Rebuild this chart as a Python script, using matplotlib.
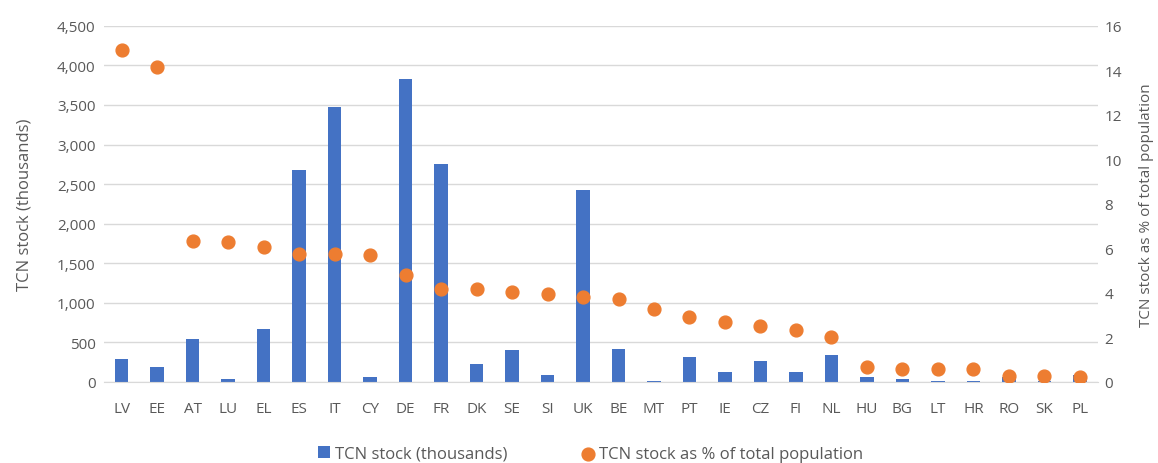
import matplotlib.pyplot as plt
import numpy as np

countries = ["LV", "EE", "AT", "LU", "EL", "ES", "IT", "CY", "DE", "FR", "DK", "SE", "SI", "UK",
             "BE", "MT", "PT", "IE", "CZ", "FI", "NL", "HU", "BG", "LT", "HR", "RO", "SK", "PL"]
stock_thousands = [290, 185, 545, 38, 670, 2680, 3470, 55, 3830, 2750, 228, 396, 80, 2430,
                   417, 8, 312, 123, 269, 123, 333, 59, 38, 10, 10, 59, 10, 80]
stock_pct = [14.9, 14.15, 6.35, 6.28, 6.05, 5.75, 5.75, 5.68, 4.78, 4.18, 4.18, 4.03, 3.96, 3.8,
             3.73, 3.28, 2.9, 2.68, 2.53, 2.31, 2.01, 0.66, 0.58, 0.58, 0.58, 0.28, 0.28, 0.21]

blue = "#4472c4"
orange = "#ed7d31"
grey = "#595959"

plt.rcParams['font.family'] = ['Open Sans', 'DejaVu Sans']

fig = plt.figure(figsize=(11.58, 4.64), dpi=100)
ax = fig.add_axes([0.0898, 0.175, 0.858, 0.767])
x = np.arange(len(countries))

ax.bar(x, stock_thousands, width=0.38, color=blue, zorder=2, label="TCN stock (thousands)")
ax.set_ylim(0, 4500)
ax.set_yticks(np.arange(0, 4501, 500))
ax.set_yticklabels([f"{v:,}" for v in range(0, 4501, 500)])
ax.set_xlim(-0.5, len(countries) - 0.5)
ax.set_xticks(x)
ax.set_xticklabels(countries)
ax.grid(axis='y', color="#d9d9d9", linewidth=1, zorder=0)
ax.set_ylabel("TCN stock (thousands)", color=grey, fontsize=12, labelpad=18)
for s in ["top", "left", "right"]:
    ax.spines[s].set_visible(False)
ax.spines["bottom"].set_color("#d9d9d9")
ax.tick_params(axis='x', length=0, colors=grey, labelsize=11, pad=14)
ax.tick_params(axis='y', length=0, colors=grey, labelsize=11, pad=6)

ax2 = ax.twinx()
ax2.scatter(x, stock_pct, s=85, color=orange, zorder=3, label="TCN stock as % of total population")
ax2.set_ylim(0, 16)
ax2.set_yticks(np.arange(0, 17, 2))
for s in ax2.spines.values():
    s.set_visible(False)
ax2.tick_params(length=0, colors=grey, labelsize=11, pad=5)
ax2.set_ylabel("TCN stock as % of total population", color=grey, fontsize=11, labelpad=12)

h1, l1 = ax.get_legend_handles_labels()
h2, l2 = ax2.get_legend_handles_labels()
fig.legend(h1 + h2, l1 + l2, loc="lower center", bbox_to_anchor=(0.51, -0.03), ncol=2,
           frameon=False, fontsize=12, labelcolor=grey, handlelength=0.7, columnspacing=4.5,
           handletextpad=0.3)

fig.savefig("out.png", dpi=100)
